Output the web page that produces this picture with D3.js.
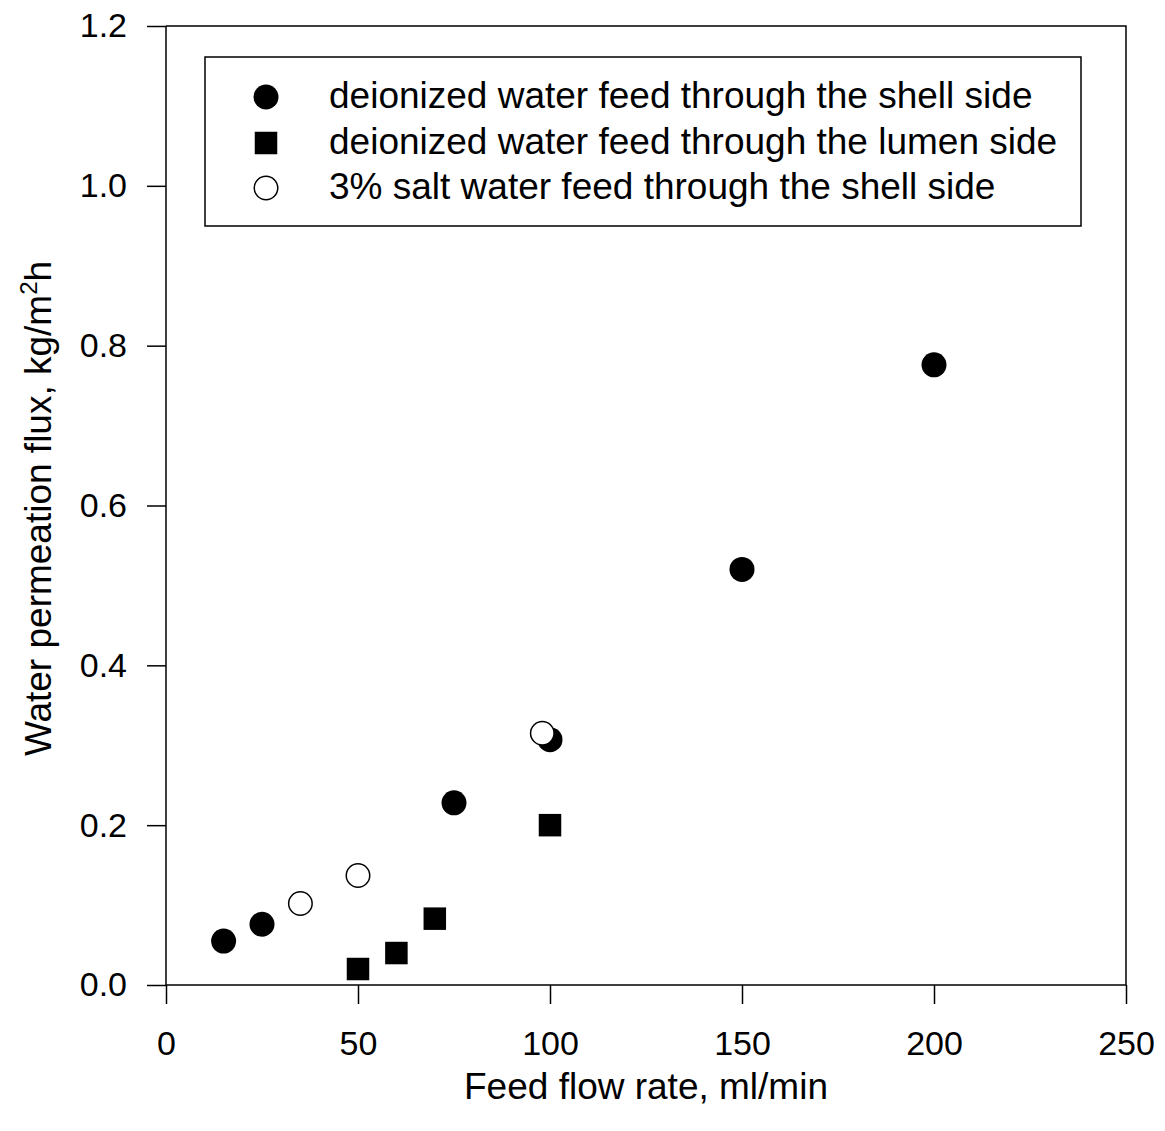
<!DOCTYPE html>
<html>
<head>
<meta charset="utf-8">
<script src="https://cdn.jsdelivr.net/npm/d3@7/dist/d3.min.js"></script>
<style>
  html, body { margin: 0; padding: 0; background: #fff; }
  svg { display: block; font-family: "Liberation Sans", Arial, sans-serif; }
</style>
</head>
<body>
<svg id="chart" width="1165" height="1131"></svg>
<script>
// Feed flow rate (ml/min) and water permeation flux (kg/m2h)
const shellFlow  = [15, 25, 75, 100, 150, 200];
const shellFlux  = [0.055, 0.076, 0.228, 0.307, 0.520, 0.776];
const lumenFlow  = [50, 60, 70, 100];
const lumenFlux  = [0.020, 0.040, 0.083, 0.200];
const saltFlow   = [35, 50, 98];
const saltFlux   = [0.102, 0.137, 0.315];

const seriesNames = [
  "deionized water feed through the shell side",
  "deionized water feed through the lumen side",
  "3% salt water feed through the shell side"
];
const xTicks = [0, 50, 100, 150, 200, 250];
const yTicks = [0.0, 0.2, 0.4, 0.6, 0.8, 1.0, 1.2];

const svg = d3.select("#chart");
const plotLeft = 166, plotRight = 1126, plotTop = 26, plotBottom = 985;

const x = d3.scaleLinear().domain([0, 250]).range([plotLeft, plotRight]);
const y = d3.scaleLinear().domain([0, 1.2]).range([plotBottom, plotTop]);

// Frame: top and right edges without ticks
svg.append("path")
  .attr("d", `M${plotLeft},${plotTop}H${plotRight}V${plotBottom}`)
  .attr("fill", "none").attr("stroke", "#000").attr("stroke-width", 1.5);

const tickFont = 34, labelFont = 37;

// Bottom axis
const xAxis = svg.append("g")
  .attr("transform", `translate(0,${plotBottom})`)
  .call(d3.axisBottom(x).tickValues(xTicks).tickSize(19).tickPadding(27).tickFormat(d3.format("d")));
// Left axis
const yAxis = svg.append("g")
  .attr("transform", `translate(${plotLeft},0)`)
  .call(d3.axisLeft(y).tickValues(yTicks).tickSize(19).tickPadding(20).tickFormat(d3.format(".1f")));

[xAxis, yAxis].forEach(g => {
  g.select(".domain").attr("stroke", "#000").attr("stroke-width", 1.5);
  g.selectAll(".tick line").attr("stroke", "#000").attr("stroke-width", 1.5);
  g.selectAll(".tick text")
    .attr("fill", "#000")
    .style("font-size", tickFont + "px")
    .style("font-family", "'Liberation Sans', Arial, sans-serif");
});
xAxis.selectAll(".domain").attr("d", `M${plotLeft},0H${plotRight}`);
yAxis.selectAll(".domain").attr("d", `M0,${plotBottom}V${plotTop}`);

// Axis titles
svg.append("text")
  .attr("x", (plotLeft + plotRight) / 2).attr("y", 1099)
  .attr("text-anchor", "middle")
  .style("font-size", labelFont + "px")
  .text("Feed flow rate, ml/min");

const yt = svg.append("text")
  .attr("transform", `translate(51,${(plotTop + plotBottom) / 2 + 3}) rotate(-90)`)
  .attr("text-anchor", "middle")
  .style("font-size", labelFont + "px");
yt.append("tspan").text("Water permeation flux, kg/m");
yt.append("tspan").attr("dy", -14).style("font-size", "24px").text("2");
yt.append("tspan").attr("dy", 14).text("h");

const r = 12.5, sq = 22.5;

// Lumen side (filled squares)
svg.append("g").selectAll("rect")
  .data(d3.zip(lumenFlow, lumenFlux)).join("rect")
  .attr("x", d => x(d[0]) - sq / 2).attr("y", d => y(d[1]) - sq / 2)
  .attr("width", sq).attr("height", sq).attr("fill", "#000");

// Shell side (filled circles)
svg.append("g").selectAll("circle")
  .data(d3.zip(shellFlow, shellFlux)).join("circle")
  .attr("cx", d => x(d[0])).attr("cy", d => y(d[1]))
  .attr("r", r).attr("fill", "#000");

// Salt water (open circles)
svg.append("g").selectAll("circle")
  .data(d3.zip(saltFlow, saltFlux)).join("circle")
  .attr("cx", d => x(d[0])).attr("cy", d => y(d[1]))
  .attr("r", r - 0.75).attr("fill", "#fff").attr("stroke", "#000").attr("stroke-width", 1.5);

// Legend
const lg = svg.append("g");
lg.append("rect")
  .attr("x", 205).attr("y", 57).attr("width", 876).attr("height", 169)
  .attr("fill", "#fff").attr("stroke", "#000").attr("stroke-width", 1.5);
const rows = [97, 143, 188];
lg.append("circle").attr("cx", 266).attr("cy", rows[0]).attr("r", r).attr("fill", "#000");
lg.append("rect").attr("x", 266 - sq / 2).attr("y", rows[1] - sq / 2).attr("width", sq).attr("height", sq).attr("fill", "#000");
lg.append("circle").attr("cx", 266).attr("cy", rows[2]).attr("r", r - 0.75)
  .attr("fill", "#fff").attr("stroke", "#000").attr("stroke-width", 1.5);
lg.selectAll("text").data(seriesNames).join("text")
  .attr("x", 329).attr("y", (d, i) => rows[i])
  .attr("dy", "0.3em")
  .style("font-size", labelFont + "px")
  .text(d => d);
</script>
</body>
</html>
